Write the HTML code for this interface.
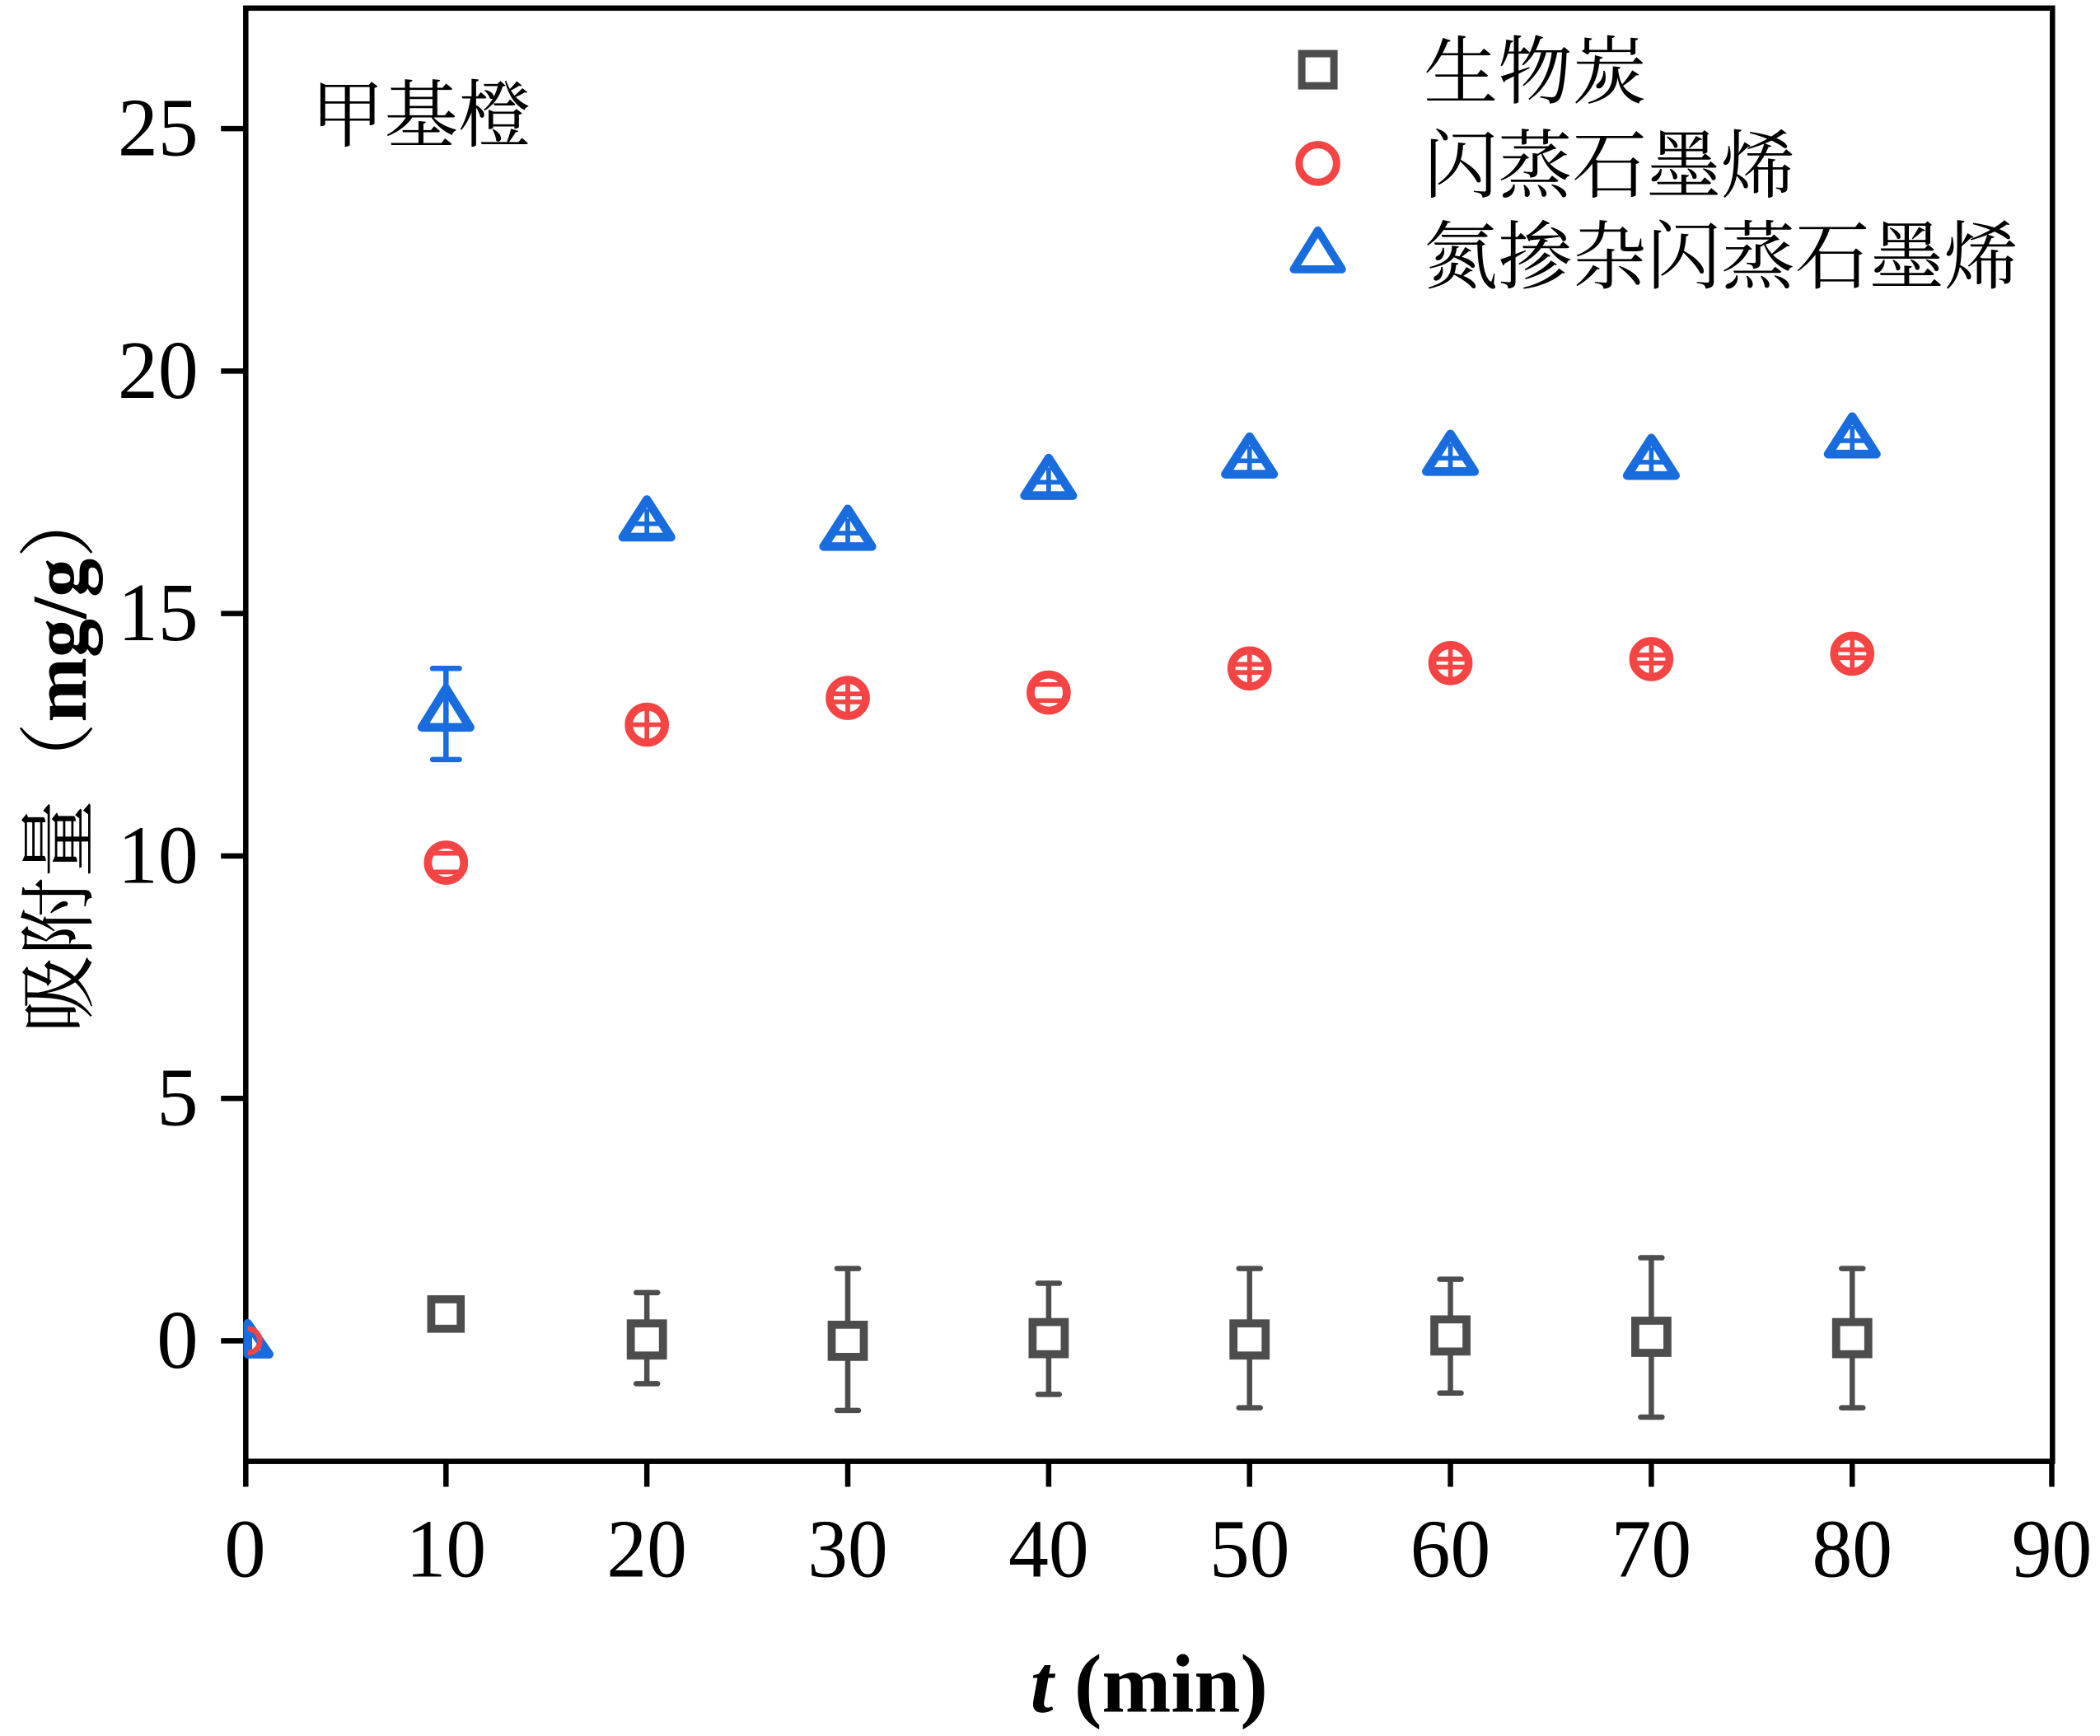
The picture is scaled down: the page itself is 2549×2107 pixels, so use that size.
<!DOCTYPE html>
<html><head><meta charset="utf-8"><style>html,body{margin:0;padding:0;background:#fff}svg{display:block}</style></head>
<body>
<svg width="2549" height="2107" viewBox="0 0 1568 1296" xmlns="http://www.w3.org/2000/svg" font-family="'Liberation Serif','Noto Serif CJK SC',serif">
<rect width="1568" height="1296" fill="#fff"/>
<rect x="183.5" y="6" width="1349" height="1085" fill="none" stroke="#000" stroke-width="4"/>
<g stroke="#000" stroke-width="4">
<line x1="165" y1="96" x2="183" y2="96"/><line x1="165" y1="277" x2="183" y2="277"/><line x1="165" y1="458" x2="183" y2="458"/><line x1="165" y1="639" x2="183" y2="639"/><line x1="165" y1="820" x2="183" y2="820"/><line x1="165" y1="1001" x2="183" y2="1001"/>
<line x1="183.5" y1="1091" x2="183.5" y2="1110"/><line x1="333" y1="1091" x2="333" y2="1110"/><line x1="483" y1="1091" x2="483" y2="1110"/><line x1="633" y1="1091" x2="633" y2="1110"/><line x1="783" y1="1091" x2="783" y2="1110"/><line x1="933" y1="1091" x2="933" y2="1110"/><line x1="1083" y1="1091" x2="1083" y2="1110"/><line x1="1233" y1="1091" x2="1233" y2="1110"/><line x1="1383" y1="1091" x2="1383" y2="1110"/><line x1="1532" y1="1091" x2="1532" y2="1110"/>
</g>
<g font-size="62" text-anchor="end" fill="#000">
<text x="148" y="116" textLength="60" lengthAdjust="spacingAndGlyphs">25</text><text x="148" y="297" textLength="60" lengthAdjust="spacingAndGlyphs">20</text><text x="148" y="478" textLength="60" lengthAdjust="spacingAndGlyphs">15</text><text x="148" y="659" textLength="60" lengthAdjust="spacingAndGlyphs">10</text><text x="148" y="840">5</text><text x="148" y="1021">0</text>
</g>
<g font-size="62" text-anchor="middle" fill="#000">
<text x="183" y="1177">0</text><text x="333" y="1177" textLength="60" lengthAdjust="spacingAndGlyphs">10</text><text x="483" y="1177" textLength="60" lengthAdjust="spacingAndGlyphs">20</text><text x="633" y="1177" textLength="60" lengthAdjust="spacingAndGlyphs">30</text><text x="783" y="1177" textLength="60" lengthAdjust="spacingAndGlyphs">40</text><text x="933" y="1177" textLength="60" lengthAdjust="spacingAndGlyphs">50</text><text x="1083" y="1177" textLength="60" lengthAdjust="spacingAndGlyphs">60</text><text x="1233" y="1177" textLength="60" lengthAdjust="spacingAndGlyphs">70</text><text x="1383" y="1177" textLength="60" lengthAdjust="spacingAndGlyphs">80</text><text x="1532" y="1177" textLength="60" lengthAdjust="spacingAndGlyphs">90</text>
</g>
<text x="858" y="1278" font-size="62" font-weight="bold" text-anchor="middle"><tspan font-style="italic">t</tspan> (min)</text>
<text transform="translate(64,565) rotate(-90)" font-size="58" text-anchor="middle">吸附量（<tspan font-weight="bold">mg/g</tspan>）</text>
<text x="232" y="105" font-size="55">甲基橙</text>
<rect x="972" y="40" width="24" height="24" fill="none" stroke="#4d4d4d" stroke-width="5.5"/>
<circle cx="984" cy="122" r="14" fill="none" stroke="#f44444" stroke-width="5.5"/>
<polygon points="984,172 1002,201 966,201" fill="none" stroke="#186cde" stroke-width="6" stroke-linejoin="round"/>
<g font-size="55.5" fill="#000">
<text x="1063" y="73">生物炭</text><text x="1063" y="143">闪蒸石墨烯</text><text x="1063" y="211">氮掺杂闪蒸石墨烯</text>
</g>
<g stroke="#4d4d4d" stroke-width="4" fill="none" stroke-linecap="round">
<line x1="483" y1="965" x2="483" y2="1033"/><line x1="475" y1="965" x2="491" y2="965"/><line x1="475" y1="1033" x2="491" y2="1033"/>
<line x1="633" y1="947" x2="633" y2="1053"/><line x1="625" y1="947" x2="641" y2="947"/><line x1="625" y1="1053" x2="641" y2="1053"/>
<line x1="783" y1="958" x2="783" y2="1041"/><line x1="775" y1="958" x2="791" y2="958"/><line x1="775" y1="1041" x2="791" y2="1041"/>
<line x1="933" y1="947" x2="933" y2="1051"/><line x1="925" y1="947" x2="941" y2="947"/><line x1="925" y1="1051" x2="941" y2="1051"/>
<line x1="1083" y1="955" x2="1083" y2="1040"/><line x1="1075" y1="955" x2="1091" y2="955"/><line x1="1075" y1="1040" x2="1091" y2="1040"/>
<line x1="1233" y1="939" x2="1233" y2="1058"/><line x1="1225" y1="939" x2="1241" y2="939"/><line x1="1225" y1="1058" x2="1241" y2="1058"/>
<line x1="1383" y1="947" x2="1383" y2="1051"/><line x1="1375" y1="947" x2="1391" y2="947"/><line x1="1375" y1="1051" x2="1391" y2="1051"/>
</g>
<g stroke="#4d4d4d" stroke-width="6" fill="#fff">
<rect x="322" y="970" width="22" height="22"/>
<rect x="471" y="988" width="24" height="24"/><rect x="621" y="989" width="24" height="24"/><rect x="771" y="987" width="24" height="24"/><rect x="921" y="988" width="24" height="24"/><rect x="1071" y="985" width="24" height="24"/><rect x="1221" y="986" width="24" height="24"/><rect x="1371" y="987" width="24" height="24"/>
</g>
<g stroke="#f44444" stroke-width="6" fill="none">
<circle cx="333" cy="644" r="13.5"/><circle cx="483" cy="541" r="13.5"/><circle cx="633" cy="521" r="13.5"/><circle cx="783" cy="517" r="13.5"/><circle cx="933" cy="499" r="13.5"/><circle cx="1083" cy="495" r="13.5"/><circle cx="1233" cy="492" r="13.5"/><circle cx="1383" cy="488" r="13.5"/>
</g>
<g stroke="#f44444" stroke-width="3.5">
<line x1="322" y1="637" x2="344" y2="637"/><line x1="322" y1="651" x2="344" y2="651"/>
<line x1="472" y1="541" x2="494" y2="541"/><line x1="483" y1="530" x2="483" y2="552"/>
<line x1="622" y1="518" x2="644" y2="518"/><line x1="622" y1="524" x2="644" y2="524"/><line x1="633" y1="510" x2="633" y2="532"/>
<line x1="772" y1="511" x2="794" y2="511"/><line x1="772" y1="523" x2="794" y2="523"/>
<line x1="922" y1="496" x2="944" y2="496"/><line x1="922" y1="502" x2="944" y2="502"/><line x1="933" y1="488" x2="933" y2="510"/>
<line x1="1072" y1="492" x2="1094" y2="492"/><line x1="1072" y1="498" x2="1094" y2="498"/><line x1="1083" y1="484" x2="1083" y2="506"/>
<line x1="1222" y1="489" x2="1244" y2="489"/><line x1="1222" y1="495" x2="1244" y2="495"/><line x1="1233" y1="481" x2="1233" y2="503"/>
<line x1="1372" y1="485" x2="1394" y2="485"/><line x1="1372" y1="491" x2="1394" y2="491"/><line x1="1383" y1="477" x2="1383" y2="499"/>
</g>
<g stroke="#186cde" stroke-width="4" stroke-linecap="round">
<line x1="333" y1="499" x2="333" y2="567"/><line x1="323" y1="499" x2="343" y2="499"/><line x1="323" y1="567" x2="343" y2="567"/>
</g>
<g stroke="#186cde" stroke-width="6.5" fill="none" stroke-linejoin="round">
<polygon points="333,514 351,543 315,543"/>
<polygon points="483,373 501,401 465,401"/>
<polygon points="633,380 651,408 615,408"/>
<polygon points="783,342 801,370 765,370"/>
<polygon points="933,326 951,354 915,354"/>
<polygon points="1083,324 1101,352 1065,352"/>
<polygon points="1233,327 1251,355 1215,355"/>
<polygon points="1383,311 1401,339 1365,339"/>
<polygon points="185,988 201,1011 185,1011"/>
</g>
<g stroke="#186cde" stroke-width="3.5">
<line x1="473" y1="391" x2="493" y2="391"/><line x1="623" y1="398" x2="643" y2="398"/><line x1="773" y1="360" x2="793" y2="360"/><line x1="923" y1="344" x2="943" y2="344"/><line x1="1073" y1="342" x2="1093" y2="342"/><line x1="1223" y1="345" x2="1243" y2="345"/><line x1="1373" y1="329" x2="1393" y2="329"/>
<line x1="483" y1="380" x2="483" y2="398"/><line x1="633" y1="387" x2="633" y2="405"/><line x1="783" y1="349" x2="783" y2="367"/><line x1="933" y1="333" x2="933" y2="351"/><line x1="1083" y1="331" x2="1083" y2="349"/><line x1="1233" y1="334" x2="1233" y2="352"/><line x1="1383" y1="318" x2="1383" y2="336"/>
</g>
<path d="M185,992 A9,9 0 0 1 185,1010" stroke="#f44444" stroke-width="4" fill="none"/>
</svg>
</body></html>
